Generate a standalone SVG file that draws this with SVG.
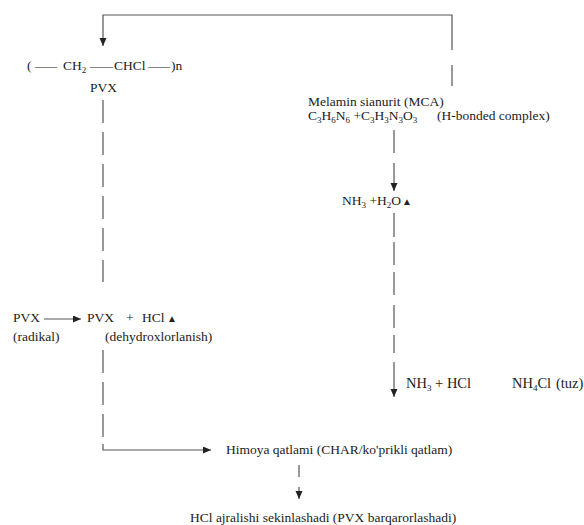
<svg xmlns="http://www.w3.org/2000/svg" width="584" height="525" viewBox="0 0 584 525">
<style>
text{font-family:"Liberation Serif","Times New Roman",serif;font-size:13.5px;fill:#222}
.sub{font-size:9px}
.up{font-size:10px}
.big{font-size:14.5px}
.ln{stroke:#555;stroke-width:1.2;fill:none}
</style>
<defs>
<marker id="ah" markerUnits="userSpaceOnUse" markerWidth="9" markerHeight="8" refX="8" refY="3.5" orient="auto">
<path d="M0,0 L8,3.5 L0,7 z" fill="#222"/>
</marker>
</defs>
<rect width="584" height="525" fill="#fff"/>
<g id="connectors">
<path class="ln" d="M452,50 V15 H103 V46" marker-end="url(#ah)"/>
<path class="ln" d="M452,65 V86"/>
<path class="ln" d="M103,100 V282" stroke-dasharray="23 9"/>
<path class="ln" d="M44,319 H81" marker-end="url(#ah)"/>
<path class="ln" d="M103,350 V444" stroke-dasharray="23 9"/>
<path class="ln" d="M103,444 V450 H211" marker-end="url(#ah)"/>
<path class="ln" d="M394,130 V153"/>
<path class="ln" d="M394,163 V191" marker-end="url(#ah)"/>
<path class="ln" d="M394,213 V237 M394,242 V265 M394,272 V295 M394,305 V328 M394,335 V353"/>
<path class="ln" d="M394,362 V397" marker-end="url(#ah)"/>
<path class="ln" d="M299,465 V477"/>
<path class="ln" d="M299,487 V499" marker-end="url(#ah)"/>
</g>
<g id="pvx-chain">
<text y="70"><tspan x="27">(</tspan><tspan x="35" textLength="22" lengthAdjust="spacingAndGlyphs">—</tspan><tspan x="63">CH</tspan><tspan class="sub" dy="3">2</tspan><tspan x="90" dy="-3" textLength="23" lengthAdjust="spacingAndGlyphs">—</tspan><tspan x="114">CHCl</tspan><tspan x="148" textLength="22" lengthAdjust="spacingAndGlyphs">—</tspan><tspan x="171">)n</tspan></text>
<text x="90" y="92">PVX</text>
</g>
<g id="mca">
<text x="308" y="106">Melamin sianurit (MCA)</text>
<text x="308" y="120">C<tspan class="sub" dy="3">3</tspan><tspan dy="-3">H</tspan><tspan class="sub" dy="3">6</tspan><tspan dy="-3">N</tspan><tspan class="sub" dy="3">6</tspan><tspan dy="-3"> +C</tspan><tspan class="sub" dy="3">3</tspan><tspan dy="-3">H</tspan><tspan class="sub" dy="3">3</tspan><tspan dy="-3">N</tspan><tspan class="sub" dy="3">3</tspan><tspan dy="-3">O</tspan><tspan class="sub" dy="3">3</tspan><tspan x="437" dy="-3">(H-bonded complex)</tspan></text>
</g>
<g id="nh3-h2o">
<text x="342" y="205">NH<tspan class="sub" dy="3">3</tspan><tspan dy="-3"> +H</tspan><tspan class="sub" dy="3">2</tspan><tspan dy="-3">O</tspan><tspan class="up" dx="1">▲</tspan></text>
</g>
<g id="pvx-radical">
<text x="13" y="322">PVX</text>
<text x="13" y="341">(radikal)</text>
</g>
<g id="pvx-hcl">
<text y="322"><tspan x="87">PVX</tspan><tspan x="126">+</tspan><tspan x="142">HCl</tspan><tspan class="up" x="167">▲</tspan></text>
<text x="105" y="341">(dehydroxlorlanish)</text>
</g>
<g id="nh3-hcl">
<text class="big" x="406" y="388">NH<tspan class="sub" dy="3">3</tspan><tspan dy="-3"> + HCl</tspan></text>
</g>
<g id="nh4cl">
<text class="big" y="388"><tspan x="512">NH</tspan><tspan class="sub" dy="3">4</tspan><tspan dy="-3">Cl</tspan><tspan x="556">(tuz)</tspan></text>
</g>
<g id="himoya">
<text x="226" y="454">Himoya qatlami (CHAR/ko'prikli qatlam)</text>
</g>
<g id="hcl-slow">
<text x="190" y="522">HCl ajralishi sekinlashadi (PVX barqarorlashadi)</text>
</g>
</svg>
